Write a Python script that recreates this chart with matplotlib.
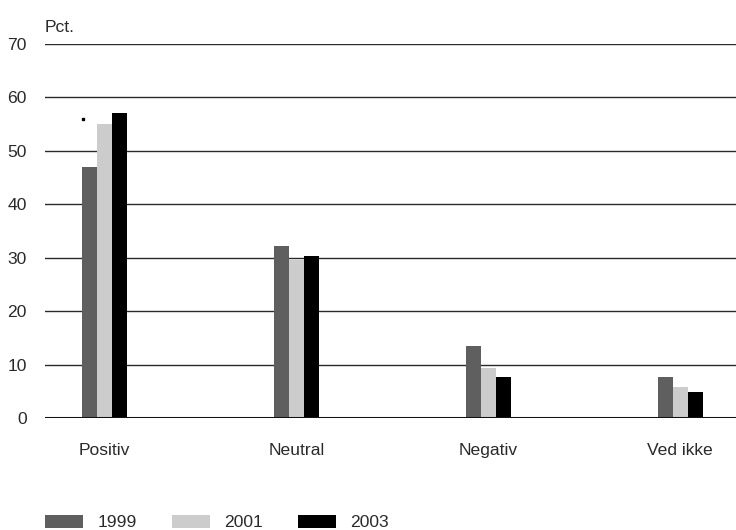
import numpy as np
import matplotlib.pyplot as plt
from matplotlib.patches import Patch

plt.rcParams['font.family'] = ['Liberation Sans', 'DejaVu Sans']

categories = ['Positiv', 'Neutral', 'Negativ', 'Ved ikke']
years = ['1999', '2001', '2003']
v1999 = [47.0, 32.2, 13.5, 7.7]
v2001 = [55.1, 29.6, 9.4, 5.8]
v2003 = [57.1, 30.3, 7.7, 4.9]
yticks = [0, 10, 20, 30, 40, 50, 60, 70]

colors = ['#5f5f5f', '#cccccc', '#000000']
txt = '#2a2a2a'
fs = 12.6

fig = plt.figure(figsize=(7.36, 5.30), dpi=100)
ax = fig.add_axes([45 / 736, (530 - 418) / 530, 1 - 45 / 736, 374 / 530])

x = np.arange(len(categories))
w = 0.079
for i, (vals, c) in enumerate(zip([v1999, v2001, v2003], colors)):
    ax.bar(x + (i - 1) * w, vals, width=w, color=c, zorder=3)

# stray tick mark above the first group
ax.plot([-0.11], [55.9], marker='s', markersize=2, color='black', zorder=4)

for t in yticks[1:]:
    ax.axhline(t, color='#2a2a2a', lw=1.0, zorder=1)
ax.axhline(0, color='#111111', lw=2.2, zorder=4)
ax.axhline(-0.45, color='#bbbbbb', lw=1.0, zorder=4)

ax.set_xlim(-0.31, 3.29)
ax.set_ylim(0, 70)
ax.set_yticks(yticks)
ax.set_xticks(x)
ax.set_xticklabels(categories)
ax.tick_params(axis='both', length=0, labelsize=fs, colors=txt)
ax.tick_params(axis='x', pad=18)
ax.tick_params(axis='y', pad=13)
for s in ax.spines.values():
    s.set_visible(False)

fig.text(45 / 736, 1 - 27 / 530, 'Pct.', fontsize=fs, color=txt, va='center', ha='left')

handles = [Patch(facecolor=c, edgecolor='none') for c in colors]
fig.legend(handles, years, loc='center left', bbox_to_anchor=(45 / 736, 1 - 522.5 / 530),
           ncol=3, frameon=False, fontsize=fs, handlelength=2.16, handleheight=0.75,
           handletextpad=0.85, columnspacing=1.98, borderpad=0, borderaxespad=0,
           labelcolor=txt)

fig.savefig('out.png', dpi=100)
